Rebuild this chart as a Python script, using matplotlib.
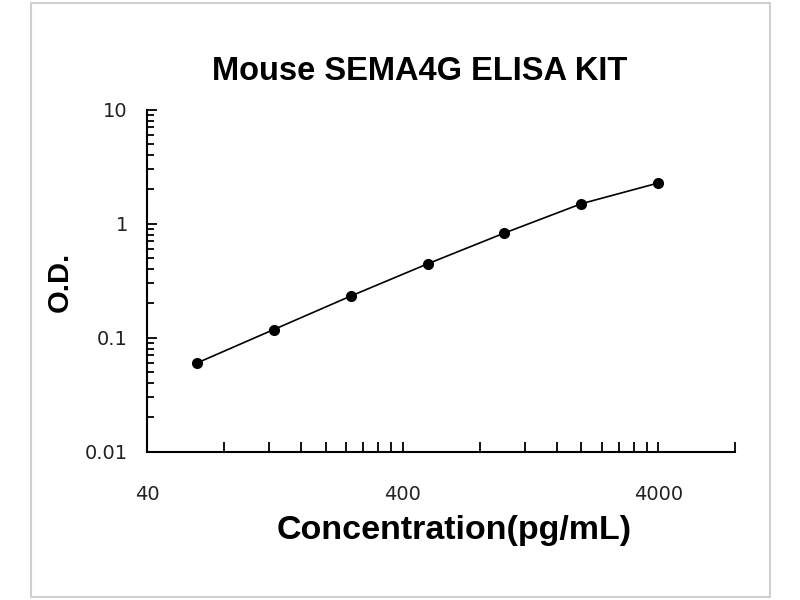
import matplotlib
matplotlib.use("Agg")
import matplotlib.pyplot as plt
from matplotlib.patches import Rectangle
from matplotlib.ticker import FixedLocator, NullFormatter

# standard curve readings
conc = [62.5, 125, 250, 500, 1000, 2000, 4000]
od = [0.060, 0.118, 0.232, 0.445, 0.83, 1.50, 2.28]

x_major = [40, 400, 4000]
x_minor = [80, 120, 160, 200, 240, 280, 320, 360,
           800, 1200, 1600, 2000, 2400, 2800, 3200, 3600, 8000]
y_major = [0.01, 0.1, 1, 10]
y_labels = ["0.01", "0.1", "1", "10"]

plt.rcParams['font.family'] = ['Liberation Sans', 'DejaVu Sans']

fig = plt.figure(figsize=(8, 6), dpi=100)
ax = fig.add_axes([0.184, 0.247, 0.735, 0.570])

# light frame round the whole picture
fig.patches.append(Rectangle((0.039, 0.005), 0.923, 0.99, transform=fig.transFigure,
                             fill=False, edgecolor="#d0d0d0", linewidth=1.5))

ax.plot(conc, od, color="black", linewidth=1.2, marker="o", markersize=7)

ax.set_xscale("log")
ax.set_yscale("log")
ax.set_xlim(40, 8000)
ax.set_ylim(0.01, 10)

ax.xaxis.set_major_locator(FixedLocator(x_major))
ax.xaxis.set_minor_locator(FixedLocator(x_minor))
ax.xaxis.set_minor_formatter(NullFormatter())
ax.set_xticklabels([str(v) for v in x_major])
ax.yaxis.set_major_locator(FixedLocator(y_major))
ax.set_yticklabels(y_labels)
ax.yaxis.set_minor_formatter(NullFormatter())
for lab in ax.get_xticklabels() + ax.get_yticklabels():
    lab.set_fontfamily("DejaVu Sans")
    lab.set_color("#222222")

ax.spines["top"].set_visible(False)
ax.spines["right"].set_visible(False)
for s in ("left", "bottom"):
    ax.spines[s].set_linewidth(1.5)

ax.tick_params(axis="x", which="both", direction="in", width=1.3, labelsize=14, pad=24, length=7)
ax.tick_params(axis="y", which="both", direction="in", width=1.3, labelsize=14, pad=14)
ax.tick_params(axis="y", which="major", length=7)
ax.tick_params(axis="y", which="minor", length=5)

fig.text(0.525, 1 - 71 / 600, "Mouse SEMA4G ELISA KIT", fontsize=23.5, fontweight="bold",
         ha="center", va="center")
fig.text(454 / 800, 1 - 530 / 600, "Concentration(pg/mL)", fontsize=24.5, fontweight="bold",
         ha="center", va="center")
fig.text(60 / 800, 1 - 282 / 600, "O.D.", fontsize=21, fontweight="bold",
         ha="center", va="center", rotation=90)

fig.savefig("out.png", dpi=100)
